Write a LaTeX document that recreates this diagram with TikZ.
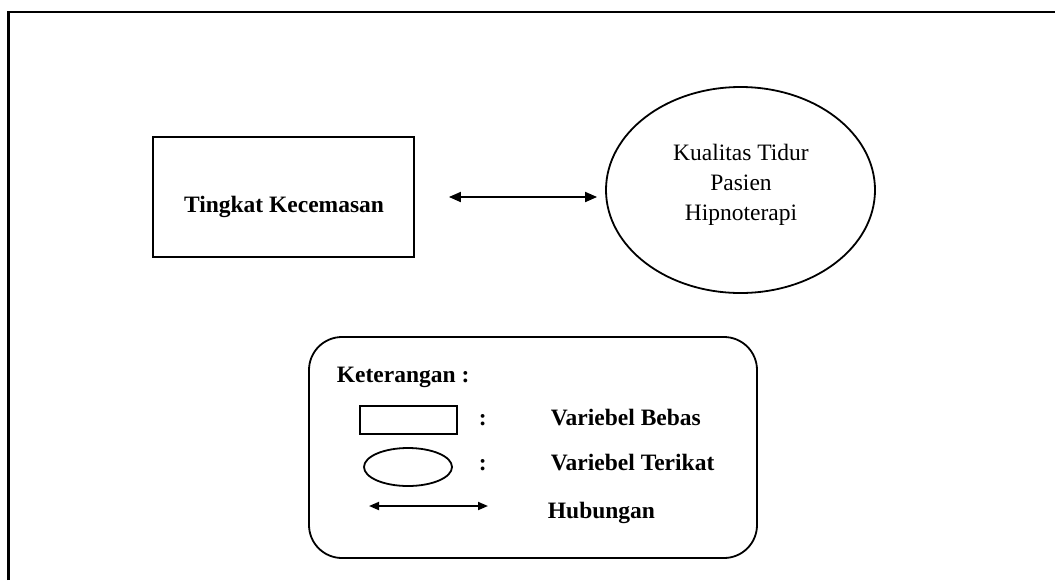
\documentclass[tikz,border=0pt]{standalone}
\usepackage{fontspec}
\setmainfont{Liberation Serif}
\usetikzlibrary{arrows.meta,shapes.geometric}

\begin{document}
\begin{tikzpicture}[x=0.5pt,y=-0.5pt,line width=0.9pt,>=Triangle,
  font=\fontsize{11.75}{15}\selectfont,
  bebas/.style={draw,rectangle,minimum width=130.5pt,minimum height=60pt},
  terikat/.style={draw,ellipse,minimum width=134.5pt,minimum height=103pt},
  legbox/.style={draw,rectangle,rounded corners=16.5pt,minimum width=224pt,minimum height=110.5pt},
  legtext/.style={anchor=base west,inner sep=0pt,font=\fontsize{11.75}{15}\selectfont\bfseries}]
\def\W{1055}  % picture width
\def\H{580}   % picture height
\useasboundingbox (0,0) rectangle (\W,\H);
% outer frame, only top and left edges show
\draw[line width=1.4pt] (8.5,\H) -- (8.5,12) -- (\W,12);

% variables
\node[bebas] (bebas) at (283.5,197) {};
\node[anchor=base,inner sep=0pt,font=\fontsize{11.75}{15}\selectfont\bfseries] (bebastext) at (284,212) {Tingkat Kecemasan};
\node[terikat] (terikat) at (740.5,190) {};
\node[align=center,inner sep=0pt] (terikattext) at (741,185) {Kualitas Tidur\\Pasien\\Hipnoterapi};
\draw[{Triangle[length=6pt,width=5pt]}-{Triangle[length=6pt,width=5pt]}]
  (bebas.east) [shorten <=17pt,shorten >=4pt] -- (bebas.east -| terikat.west);

% legend
\node[legbox] (legend) at (533,447.5) {};
\node[legtext] (ket) at (336,382) {Keterangan :};
\node[draw,rectangle,minimum width=48.5pt,minimum height=14pt] (legbebas) at (408.5,420) {};
\node[draw,ellipse,minimum width=44pt,minimum height=19pt] (legterikat) at (408,467) {};
\coordinate (hubA) at (369,506);
\coordinate (hubB) at (488,506);
\draw[{Triangle[length=5pt,width=4pt]}-{Triangle[length=5pt,width=4pt]}] (hubA) -- (hubB);
\node[legtext] (colA) at (478,425) {:};
\node[legtext] (colB) at (478,470) {:};
\node[legtext] (txtbebas) at (550,425) {Variebel Bebas};
\node[legtext] (txtterikat) at (550,470) {Variebel Terikat};
\node[legtext] (txthub) at (547,518) {Hubungan};
\end{tikzpicture}
\end{document}
